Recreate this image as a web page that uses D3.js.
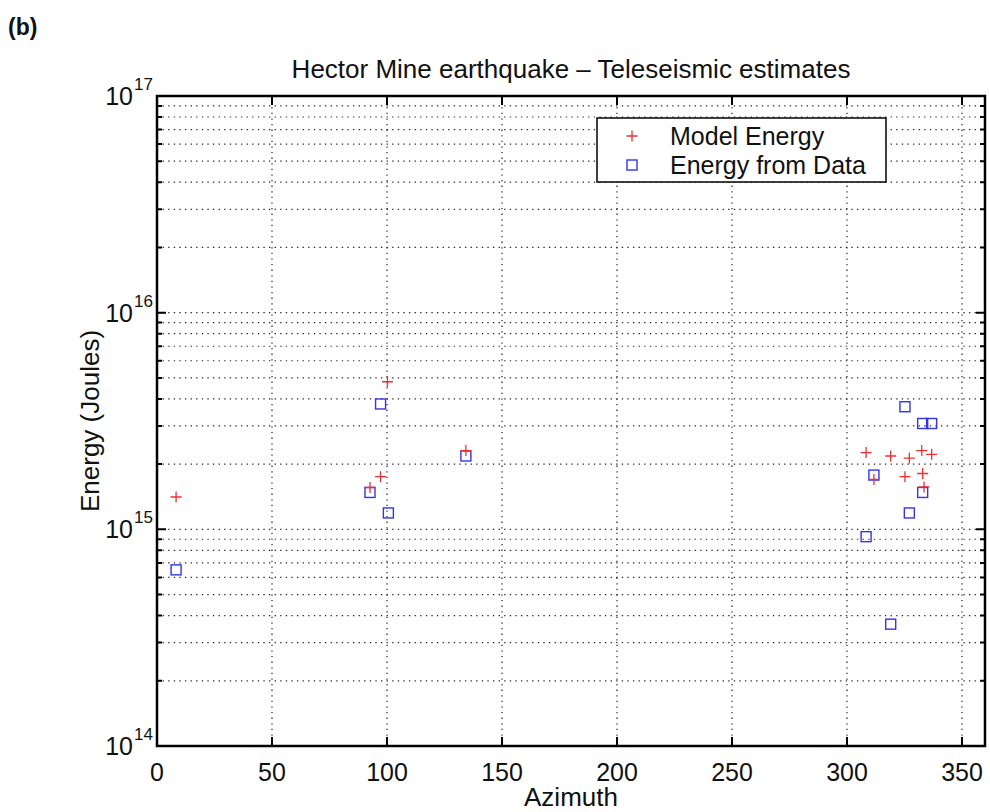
<!DOCTYPE html>
<html>
<head>
<meta charset="utf-8">
<script src="https://cdn.jsdelivr.net/npm/d3@7"></script>
<style>
body { margin: 0; background: #fff; }
text { font-family: "Liberation Sans", Arial, sans-serif; fill: #111; }
</style>
</head>
<body>
<div id="chart"></div>
<script>
// azimuth (deg) and energy (J)
var modelAz = [8.3, 92.6, 97.2, 100.2, 134.3, 308.3, 311.7, 319.0, 325.2, 327.1, 332.5, 332.9, 333.5, 336.8];
var modelE  = [1.41e15, 1.56e15, 1.75e15, 4.8e15, 2.31e15, 2.26e15, 1.70e15, 2.18e15, 1.75e15, 2.13e15, 2.31e15, 1.81e15, 1.57e15, 2.22e15];
var dataAz  = [8.3, 92.6, 97.2, 100.6, 134.3, 308.3, 311.7, 319.0, 325.2, 327.1, 332.9, 332.9, 336.8];
var dataE   = [6.5e14, 1.48e15, 3.79e15, 1.19e15, 2.18e15, 9.25e14, 1.78e15, 3.65e14, 3.68e15, 1.19e15, 3.08e15, 1.48e15, 3.08e15];
var xTicks = [0, 50, 100, 150, 200, 250, 300, 350];
var yExps = [14, 15, 16, 17];

var width = 990;
var height = 812;
var plot = { left: 157, right: 985, top: 96, bottom: 746 };

var svg = d3.select('#chart')
            .append('svg')
                .attr('width', width)
                .attr('height', height);

var xScale = d3.scaleLinear()
                .domain([0, 360])
                .range([plot.left, plot.right]);

var yScale = d3.scaleLog()
                .domain([1e14, 1e17])
                .range([plot.bottom, plot.top]);

// minor values 2..9 in each decade
var minorVals = [];
for (var e = 14; e < 17; ++e)
    for (var m = 2; m <= 9; ++m)
        minorVals.push(m * Math.pow(10, e));
var majorVals = yExps.map(function(e){ return Math.pow(10, e); });

var grid = svg.append('g')
                .attr('stroke', '#222')
                .attr('stroke-width', 1.2)
                .attr('stroke-dasharray', '1.3,4.3');

grid.selectAll('.hgrid')
    .data(minorVals.concat(majorVals.slice(1, 3)))
    .enter()
    .append('line')
        .attr('x1', plot.left)
        .attr('x2', plot.right)
        .attr('y1', function(d){ return yScale(d); })
        .attr('y2', function(d){ return yScale(d); });

grid.selectAll('.vgrid')
    .data(xTicks.slice(1))
    .enter()
    .append('line')
        .attr('x1', function(d){ return xScale(d); })
        .attr('x2', function(d){ return xScale(d); })
        .attr('y1', plot.top)
        .attr('y2', plot.bottom);

// ticks, pointing inward, on all four sides
var ticks = svg.append('g').attr('stroke', '#000').attr('stroke-width', 2);

ticks.selectAll('.xt')
    .data(xTicks)
    .enter()
    .append('path')
        .attr('d', function(d){
            var x = xScale(d);
            return 'M' + x + ',' + plot.bottom + 'v-9M' + x + ',' + plot.top + 'v9';
        });

ticks.selectAll('.yt')
    .data(majorVals)
    .enter()
    .append('path')
        .attr('d', function(d){
            var y = yScale(d);
            return 'M' + plot.left + ',' + y + 'h9M' + plot.right + ',' + y + 'h-9';
        });

ticks.selectAll('.ym')
    .data(minorVals)
    .enter()
    .append('path')
        .attr('d', function(d){
            var y = yScale(d);
            return 'M' + plot.left + ',' + y + 'h5M' + plot.right + ',' + y + 'h-5';
        });

// box
svg.append('rect')
    .attr('x', plot.left)
    .attr('y', plot.top)
    .attr('width', plot.right - plot.left)
    .attr('height', plot.bottom - plot.top)
    .attr('fill', 'none')
    .attr('stroke', '#000')
    .attr('stroke-width', 2.5);

// tick labels
svg.selectAll('.xl')
    .data(xTicks)
    .enter()
    .append('text')
        .attr('x', function(d){ return xScale(d); })
        .attr('y', 781)
        .attr('text-anchor', 'middle')
        .attr('font-size', 25)
        .text(function(d){ return d; });

var yl = svg.selectAll('.yl')
    .data(yExps)
    .enter()
    .append('g')
        .attr('transform', function(d){ return 'translate(0,' + yScale(Math.pow(10, d)) + ')'; });

yl.append('text')
    .attr('x', 133)
    .attr('y', 9)
    .attr('text-anchor', 'end')
    .attr('font-size', 25)
    .text('10');

yl.append('text')
    .attr('x', 134)
    .attr('y', -6)
    .attr('font-size', 17)
    .text(function(d){ return d; });

// titles
svg.append('text')
    .attr('x', (plot.left + plot.right) / 2)
    .attr('y', 78)
    .attr('text-anchor', 'middle')
    .attr('font-size', 26)
    .text('Hector Mine earthquake \u2013 Teleseismic estimates');

svg.append('text')
    .attr('x', (plot.left + plot.right) / 2)
    .attr('y', 806)
    .attr('text-anchor', 'middle')
    .attr('font-size', 26)
    .text('Azimuth');

svg.append('text')
    .attr('transform', 'translate(99,' + ((plot.top + plot.bottom) / 2) + ') rotate(-90)')
    .attr('text-anchor', 'middle')
    .attr('font-size', 26)
    .text('Energy (Joules)');

svg.append('text')
    .attr('x', 8)
    .attr('y', 35)
    .attr('font-family', '"DejaVu Sans", sans-serif')
    .attr('font-weight', 'bold')
    .attr('font-size', 23)
    .text('(b)');

// markers
function plusPath(x, y, r){
    return 'M' + (x - r) + ',' + y + 'h' + (2 * r) + 'M' + x + ',' + (y - r) + 'v' + (2 * r);
}

svg.selectAll('.sq')
    .data(dataE)
    .enter()
    .append('rect')
        .attr('x', function(d, i){ return xScale(dataAz[i]) - 5; })
        .attr('y', function(d){ return yScale(d) - 5; })
        .attr('width', 10)
        .attr('height', 10)
        .attr('fill', 'none')
        .attr('stroke', '#3434ee')
        .attr('stroke-width', 1.4);

svg.selectAll('.pl')
    .data(modelE)
    .enter()
    .append('path')
        .attr('d', function(d, i){ return plusPath(xScale(modelAz[i]), yScale(d), 5.5); })
        .attr('stroke', '#f03030')
        .attr('stroke-width', 1.3);

// legend
var legend = svg.append('g');
legend.append('rect')
    .attr('x', 597)
    .attr('y', 118)
    .attr('width', 289)
    .attr('height', 64)
    .attr('fill', '#fff')
    .attr('stroke', '#000')
    .attr('stroke-width', 1.5);

legend.append('path')
    .attr('d', plusPath(632, 136, 5.5))
    .attr('stroke', '#f03030')
    .attr('stroke-width', 1.3);

legend.append('rect')
    .attr('x', 627)
    .attr('y', 160)
    .attr('width', 10)
    .attr('height', 10)
    .attr('fill', 'none')
    .attr('stroke', '#3434ee')
    .attr('stroke-width', 1.4);

legend.append('text')
    .attr('x', 670)
    .attr('y', 145)
    .attr('font-size', 25)
    .text('Model Energy');

legend.append('text')
    .attr('x', 670)
    .attr('y', 174)
    .attr('font-size', 25)
    .text('Energy from Data');
</script>
</body>
</html>
